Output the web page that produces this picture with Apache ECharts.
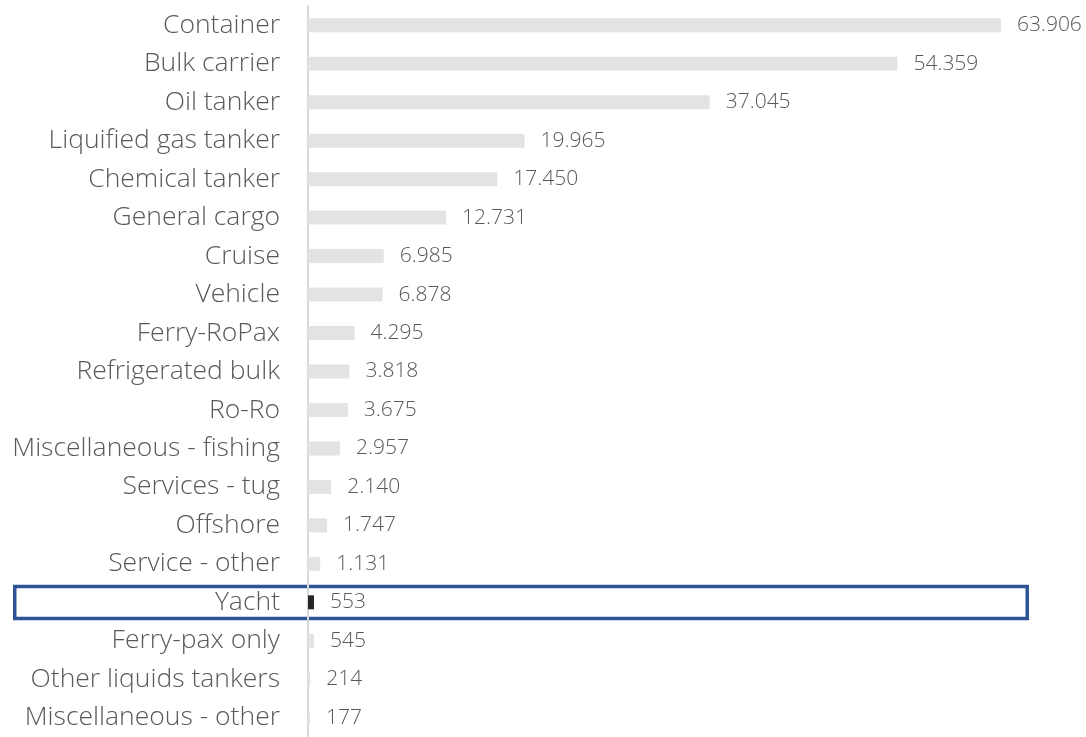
<!DOCTYPE html>
<html>
<head>
<meta charset="utf-8">
<script src="https://cdn.jsdelivr.net/npm/echarts@6/dist/echarts.min.js"></script>
<style>html,body{margin:0;padding:0;background:#fff}#c{width:1086px;height:737px}</style>
</head>
<body>
<div id="c"></div>
<script>
const categories = ["Container","Bulk carrier","Oil tanker","Liquified gas tanker","Chemical tanker","General cargo","Cruise","Vehicle","Ferry-RoPax","Refrigerated bulk","Ro-Ro","Miscellaneous - fishing","Services - tug","Offshore","Service - other","Yacht","Ferry-pax only","Other liquids tankers","Miscellaneous - other"];
const values = [63906,54359,37045,19965,17450,12731,6985,6878,4295,3818,3675,2957,2140,1747,1131,553,545,214,177];
const highlight = "Yacht";

const fmt = v => String(v).replace(/\B(?=(\d{3})+(?!\d))/g, ".");
const chart = echarts.init(document.getElementById('c'));
const FONT = "'Open Sans', sans-serif";
chart.setOption({
  animation: false,
  grid: {left: 308, right: 19, top: 6, height: 734, containLabel: false},
  xAxis: {type: 'value', min: 0, max: 70000, show: false},
  yAxis: {
    type: 'category', data: categories, inverse: true,
    axisLine: {lineStyle: {color: '#d9d9d9', width: 2}},
    axisTick: {show: false},
    axisLabel: {color: '#595959', fontSize: 26.5, fontFamily: FONT, fontWeight: 300, margin: 28, padding: [4, 0, 0, 0]}
  },
  series: [{
    type: 'bar', barWidth: 14,
    data: values.map((v, i) => ({value: v, itemStyle: {color: categories[i] === highlight ? '#262626' : '#e3e3e3'}})),
    label: {show: true, position: 'right', distance: 16, color: '#595959', fontSize: 21, fontFamily: FONT, fontWeight: 300,
      padding: [3, 0, 0, 0], formatter: p => fmt(p.value)}
  }]
});
const yc = chart.convertToPixel({yAxisIndex: 0}, highlight);
chart.setOption({graphic: [{type: 'rect', shape: {x: 14.75, y: yc - 15.75, width: 1012.5, height: 32},
  style: {fill: 'none', stroke: '#2f5597', lineWidth: 3.5}}]});
</script>
</body>
</html>
